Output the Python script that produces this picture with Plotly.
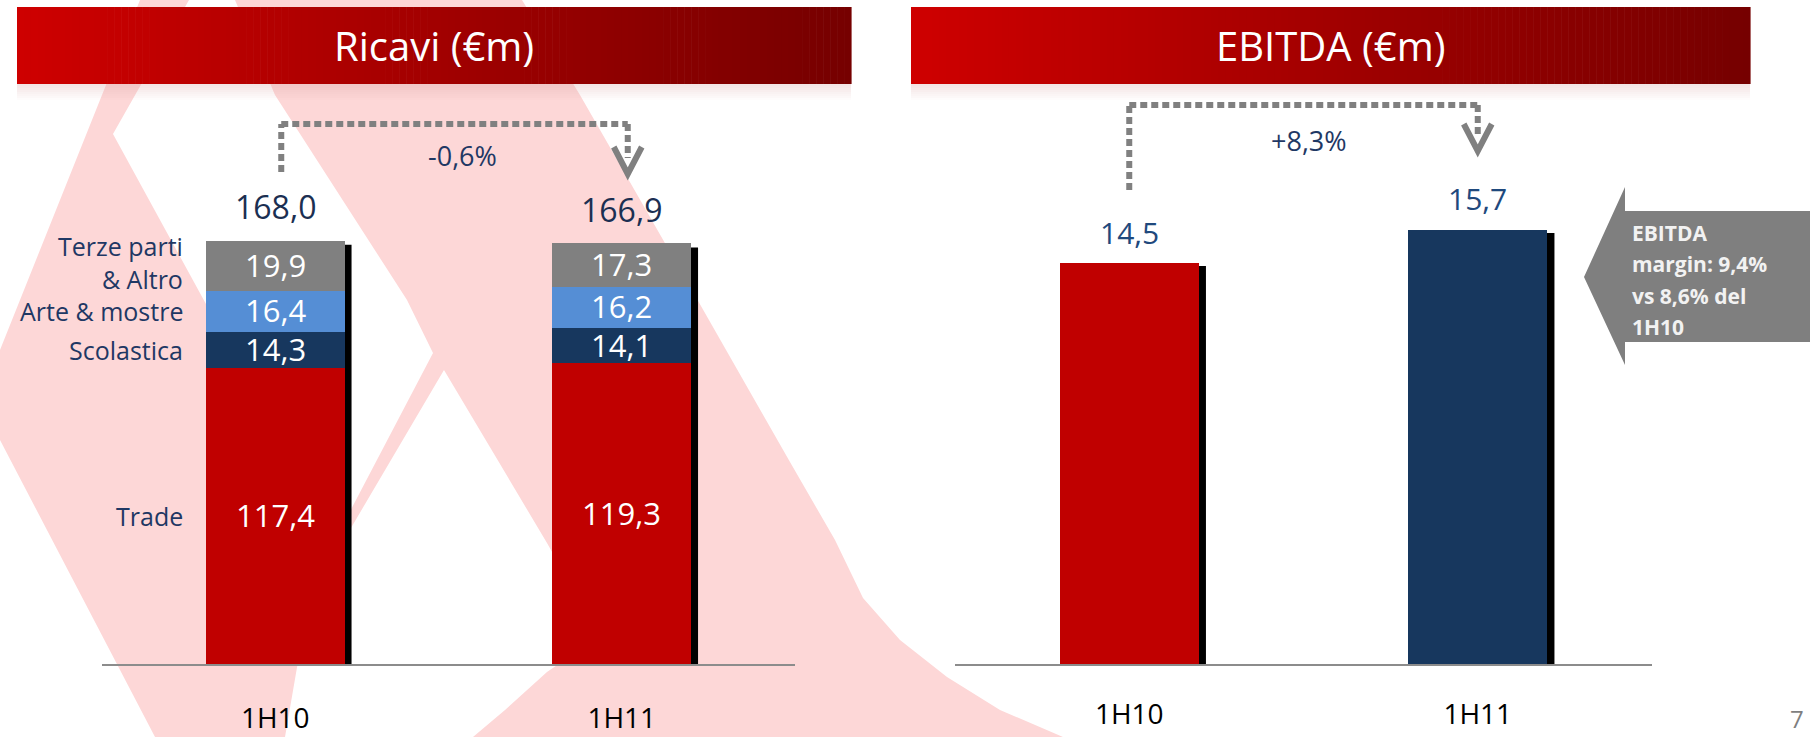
import plotly.graph_objects as go

W, H = 1810, 737

# ---- data -------------------------------------------------------------
periods = ["1H10", "1H11"]

trade = [117.4, 119.3]
scolastica = [14.3, 14.1]
arte_mostre = [16.4, 16.2]
terze_parti = [19.9, 17.3]
revenue_total = [168.0, 166.9]
revenue_change = "-0,6%"

ebitda = [14.5, 15.7]
ebitda_change = "+8,3%"

segment_names = ["Trade", "Scolastica", "Arte & mostre", "Terze parti<br>& Altro"]
margin_note = ["EBITDA", "margin: 9,4%", "vs 8,6% del", "1H10"]

# ---- styling ----------------------------------------------------------
RED = "#C00000"
NAVY = "#17375E"
LIGHT_BLUE = "#558ED5"
GRAY = "#808080"
LABEL_NAVY = "#1F3864"
VALUE_BLUE = "#1F497D"
PINK = "#FDD7D7"
FONT = "Open Sans"

LEFT_PX_PER_UNIT = 2.52
RIGHT_PX_PER_UNIT = 27.65
PLOT_TOP, PLOT_BOTTOM = 120, 664
PLOT_H = PLOT_BOTTOM - PLOT_TOP
LEFT_X = (102, 795)
RIGHT_X = (955, 1652)
BAR_W = 0.4


def px(x):
    return x / W


def py(y):
    return 1 - y / H


def fmt(v):
    return f"{v:.1f}".replace(".", ",")


def path(points):
    return "M " + " L ".join(f"{px(x):.5f},{py(y):.5f}" for x, y in points) + " Z"


fig = go.Figure()

# stacked revenue bars
stack = [
    (trade, RED),
    (scolastica, NAVY),
    (arte_mostre, LIGHT_BLUE),
    (terze_parti, GRAY),
]
for (vals, color), name in zip(stack, segment_names):
    fig.add_trace(go.Bar(
        x=periods, y=vals, name=name, width=BAR_W,
        marker=dict(color=color, line=dict(width=0)),
        xaxis="x", yaxis="y", hoverinfo="skip",
    ))

# EBITDA bars
fig.add_trace(go.Bar(
    x=periods, y=ebitda, width=BAR_W,
    marker=dict(color=[RED, NAVY], line=dict(width=0)),
    xaxis="x2", yaxis="y2", hoverinfo="skip",
))

shapes = []
annotations = []

# ---- background watermark --------------------------------------------
shapes.append(dict(
    type="path", xref="paper", yref="paper", layer="below", line=dict(width=0),
    fillcolor=PINK,
    path=path([(140, 0), (522, 0), (580, 95), (693, 292), (790, 462),
               (835, 540), (863, 598), (900, 640), (947, 677), (1000, 710),
               (1063, 737), (155, 737), (0, 440), (0, 350)]),
))
# counters of the watermark letter
shapes.append(dict(
    type="path", xref="paper", yref="paper", layer="below", line=dict(width=0),
    fillcolor="white",
    path=path([(189, 0), (235, 0), (275, 95), (407, 300), (433, 353),
               (335, 540), (113, 134)]),
))
shapes.append(dict(
    type="path", xref="paper", yref="paper", layer="below", line=dict(width=0),
    fillcolor="white",
    path=path([(444, 370), (547, 543), (582, 605), (585, 632), (572, 655),
               (547, 672), (505, 710), (473, 737), (285, 737), (300, 650),
               (348, 533)]),
))


# ---- title bars (horizontal gradient) --------------------------------
def title_bar(x0, x1, y0, y1, text):
    n = 120
    step = (x1 - x0) / n
    c0, c1 = (206, 0, 0), (118, 0, 0)
    for i in range(n):
        t = i / (n - 1)
        r = round(c0[0] + (c1[0] - c0[0]) * t)
        shapes.append(dict(
            type="rect", xref="paper", yref="paper", layer="below",
            x0=px(x0 + i * step), x1=px(x0 + (i + 1) * step + 0.6),
            y0=py(y1), y1=py(y0), line=dict(width=0),
            fillcolor=f"rgb({r},0,0)",
        ))
    # soft reflection under the bar
    for k in range(8):
        shapes.append(dict(
            type="rect", xref="paper", yref="paper", layer="below",
            x0=px(x0), x1=px(x1), y0=py(y1 + 2 * k + 2), y1=py(y1 + 2 * k),
            line=dict(width=0),
            fillcolor=f"rgba(215,160,160,{0.28 * (1 - k / 8):.3f})",
        ))
    annotations.append(dict(
        x=px((x0 + x1) / 2), y=py((y0 + y1) / 2), xref="paper", yref="paper",
        text=text, showarrow=False, xanchor="center", yanchor="middle",
        font=dict(family=FONT, size=40, color="white"),
    ))


title_bar(17, 851, 7, 84, "Ricavi (€m)")
title_bar(911, 1750, 7, 84, "EBITDA (€m)")

# ---- bar shadows (drawn from the bar values) -------------------------
left_unit_x = (LEFT_X[1] - LEFT_X[0]) / 2
right_unit_x = (RIGHT_X[1] - RIGHT_X[0]) / 2
for i, tot in enumerate(revenue_total):
    shapes.append(dict(
        type="rect", xref="x", yref="y", layer="below",
        x0=i + BAR_W / 2 - 2 / left_unit_x, x1=i + BAR_W / 2 + 7 / left_unit_x,
        y0=0, y1=tot - 4 / LEFT_PX_PER_UNIT,
        fillcolor="black", line=dict(width=0),
    ))
for i, v in enumerate(ebitda):
    shapes.append(dict(
        type="rect", xref="x2", yref="y2", layer="below",
        x0=i + BAR_W / 2 - 2 / right_unit_x, x1=i + BAR_W / 2 + 7 / right_unit_x,
        y0=0, y1=v - 3 / RIGHT_PX_PER_UNIT,
        fillcolor="black", line=dict(width=0),
    ))


# ---- dashed change arrows --------------------------------------------
def change_arrow(xref, x_from, x_to, unit_x, y_low, y_top, tip_y, label, label_dx, label_y):
    dash = dict(color=GRAY, width=6, dash="7px,4px")
    shapes.append(dict(type="line", xref=xref, yref="paper",
                       x0=x_from, x1=x_from, y0=py(y_low), y1=py(y_top), line=dash))
    shapes.append(dict(type="line", xref=xref, yref="paper",
                       x0=x_from, x1=x_to, y0=py(y_top), y1=py(y_top), line=dash))
    shapes.append(dict(type="line", xref=xref, yref="paper",
                       x0=x_to, x1=x_to, y0=py(y_top), y1=py(tip_y - 18), line=dash))
    half = 14 / unit_x
    shapes.append(dict(
        type="path", xref=xref, yref="paper",
        path=(f"M {x_to - half},{py(tip_y - 29)} L {x_to},{py(tip_y - 2)} "
              f"L {x_to + half},{py(tip_y - 29)}"),
        line=dict(color=GRAY, width=6),
    ))
    annotations.append(dict(
        x=(x_from + x_to) / 2 + label_dx / unit_x, y=py(label_y),
        xref=xref, yref="paper", text=label, showarrow=False,
        xanchor="center", yanchor="middle",
        font=dict(family=FONT, size=27, color=LABEL_NAVY),
    ))


change_arrow("x", 0 + 6 / left_unit_x, 1 + 6 / left_unit_x, left_unit_x,
             172, 124, 176, revenue_change, 8, 155)
change_arrow("x2", 0, 1, right_unit_x, 190, 105, 153, ebitda_change, 5, 140)

# ---- value labels -----------------------------------------------------
for i in range(len(periods)):
    base = 0
    for vals, _ in stack:
        v = vals[i]
        annotations.append(dict(
            x=i, y=base + v / 2, xref="x", yref="y", text=fmt(v),
            showarrow=False, yshift=1, xanchor="center", yanchor="middle",
            font=dict(family=FONT, size=31, color="white"),
        ))
        base += v
    annotations.append(dict(
        x=i, y=revenue_total[i], xref="x", yref="y", text=fmt(revenue_total[i]),
        showarrow=False, yshift=34, xanchor="center", yanchor="middle",
        font=dict(family=FONT, size=32, color="#1B2F52"),
    ))

# segment names next to the first bar
base = 0
for (vals, _), name in zip(stack, segment_names):
    annotations.append(dict(
        x=-BAR_W / 2 - 21 / left_unit_x, y=base + vals[0] / 2, xref="x", yref="y",
        text=name, showarrow=False, xanchor="right", yanchor="middle", align="right",
        yshift=3 if "<br>" in name else 0,
        font=dict(family=FONT, size=25, color=LABEL_NAVY),
    ))
    base += vals[0]

for i, v in enumerate(ebitda):
    annotations.append(dict(
        x=i, y=v, xref="x2", yref="y2", text=fmt(v), showarrow=False, yshift=31,
        xanchor="center", yanchor="middle",
        font=dict(family=FONT, size=30, color=VALUE_BLUE),
    ))

# ---- EBITDA margin callout --------------------------------------------
shapes.append(dict(
    type="path", xref="paper", yref="paper", fillcolor="#7F7F7F",
    line=dict(width=0),
    path=path([(1584, 277), (1625, 187), (1625, 211), (1812, 211),
               (1812, 342), (1625, 342), (1625, 365)]),
))
for k, line in enumerate(margin_note):
    annotations.append(dict(
        x=px(1630), y=py(233 + 31.3 * k), xref="paper", yref="paper",
        text=f"<b>{line}</b>", showarrow=False, xanchor="left", yanchor="middle",
        font=dict(family=FONT, size=21, color="#F2F2F2"),
    ))

# page number
annotations.append(dict(
    x=px(1797), y=py(700), xref="paper", yref="paper", text="7",
    showarrow=False, xanchor="center", yanchor="top",
    font=dict(family=FONT, size=24, color="#7F7F7F"),
))

axis_common = dict(
    type="category", categoryorder="array", categoryarray=periods,
    range=[-0.5, 1.5], showgrid=False, zeroline=False, ticks="",
    showline=True, linecolor="#8C8C8C", linewidth=1.5, fixedrange=True,
    automargin=False,
    tickfont=dict(family=FONT, size=28, color="black"),
)
ydom = [py(PLOT_BOTTOM), py(PLOT_TOP)]

fig.update_layout(
    width=W, height=H,
    margin=dict(l=0, r=0, t=0, b=0, autoexpand=False),
    paper_bgcolor="white", plot_bgcolor="rgba(0,0,0,0)",
    barmode="stack", showlegend=False,
    xaxis=dict(axis_common, domain=[px(LEFT_X[0]), px(LEFT_X[1])], anchor="y",
               ticklabelstandoff=29),
    yaxis=dict(domain=ydom, range=[0, PLOT_H / LEFT_PX_PER_UNIT], visible=False,
               fixedrange=True, anchor="x", automargin=False),
    xaxis2=dict(axis_common, domain=[px(RIGHT_X[0]), px(RIGHT_X[1])], anchor="y2",
                ticklabelstandoff=25),
    yaxis2=dict(domain=ydom, range=[0, PLOT_H / RIGHT_PX_PER_UNIT], visible=False,
                fixedrange=True, anchor="x2", automargin=False),
    shapes=shapes,
    annotations=annotations,
)

fig.write_html("out.html")
